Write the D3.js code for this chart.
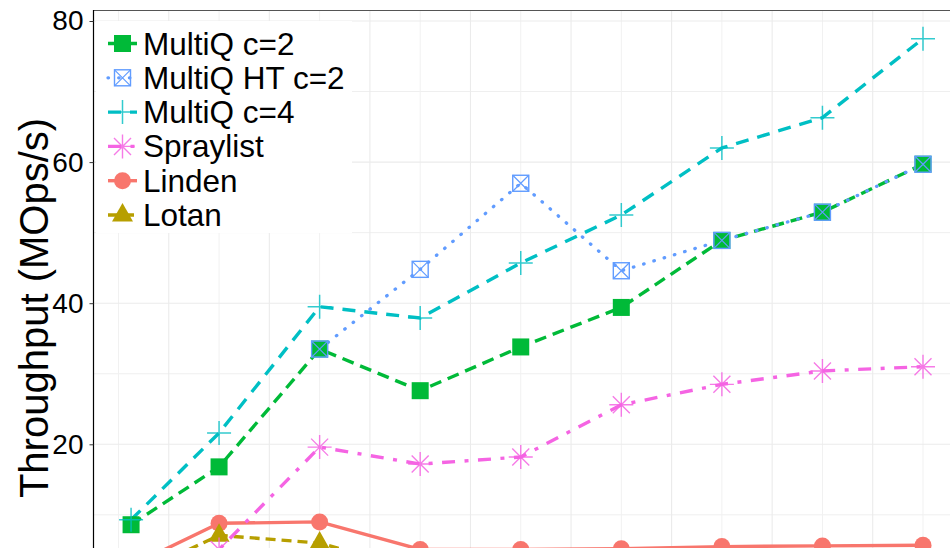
<!DOCTYPE html>
<html><head><meta charset="utf-8">
<script src="https://cdn.jsdelivr.net/npm/d3@7"></script>
<style>html,body{margin:0;padding:0;background:#fff;} svg{display:block;font-family:"Liberation Sans",Arial,Helvetica,sans-serif;}</style>
</head><body><svg id="c" width="950" height="548"></svg>
<script>
// ---- data ----
const threads = [1, 8, 16, 24, 32, 40, 48, 56, 64];
const multiqC2   = [8.6, 16.8, 33.5, 27.6, 33.8, 39.4, 48.9, 52.9, 59.7];
const multiqHTC2 = [null, null, 33.5, 44.8, 57.0, 44.6, 48.9, 52.9, 59.7];
const multiqC4   = [9.3, 21.6, 39.5, 37.9, 45.7, 52.5, 62.0, 66.3, 77.5];
const spraylist  = [1.0, 5.1, 19.6, 17.2, 18.2, 25.6, 28.5, 30.4, 31.0];
const linden     = [2.8, 8.8, 9.0, 5.1, 5.1, 5.2, 5.5, 5.6, 5.7];
const lotan      = [1.2, 7.1, 6.0, 2.0, 2.0, 1.9, 1.8, 1.8, 1.7];
const legendNames = ["MultiQ c=2", "MultiQ HT c=2", "MultiQ c=4", "Spraylist", "Linden", "Lotan"];
const yTickValues = [20, 40, 60, 80];
const yMinorValues = [10, 30, 50, 70];
const xMajorGrid = [4, 12, 20, 28, 36, 44, 52, 60, 68];
const xMinorGrid = [0, 8, 16, 24, 32, 40, 48, 56, 64];
const yTitle = "Throughput (MOps/s)";

// ---- styles (separate from data) ----
const styles = {
  "MultiQ c=2":    {color:"#00BA38", dash:"12,7",  width:3.4, shape:"square"},
  "MultiQ HT c=2": {color:"#619CFF", dash:"0.5,10.2", width:3.3, shape:"squarecross", cap:"round"},
  "MultiQ c=4":    {color:"#00BFC4", dash:"13,9",  width:3.4, shape:"plus"},
  "Spraylist":     {color:"#F564E3", dash:"13,9.5,4,9.5", width:3.4, shape:"asterisk"},
  "Linden":        {color:"#F8766D", dash:null,    width:3.4, shape:"circle"},
  "Lotan":         {color:"#B79F00", dash:"10,6",  width:3.4, shape:"triangle"}
};
const seriesValues = {
  "MultiQ c=2": multiqC2, "MultiQ HT c=2": multiqHTC2, "MultiQ c=4": multiqC4,
  "Spraylist": spraylist, "Linden": linden, "Lotan": lotan
};
// drawing order (factor level order)
const drawOrder = ["Linden", "Lotan", "MultiQ c=2", "MultiQ c=4", "MultiQ HT c=2", "Spraylist"];

const svg = d3.select("#c");
const panel = {left:93.5, top:10.5, right:962, bottom:600};
const x = d3.scaleLinear().domain([0, 64]).range([118.5, 923]);
const y = d3.scaleLinear().domain([0, 80]).range([585.4, 21]);

svg.append("defs").append("clipPath").attr("id","clip")
  .append("rect").attr("x",panel.left).attr("y",panel.top)
  .attr("width",panel.right-panel.left).attr("height",panel.bottom-panel.top);

const grid = svg.append("g").attr("clip-path","url(#clip)");
grid.selectAll(".hmin").data(yMinorValues).join("line")
  .attr("x1",panel.left).attr("x2",panel.right).attr("y1",d=>y(d)).attr("y2",d=>y(d))
  .attr("stroke","#efefef").attr("stroke-width",1);
grid.selectAll(".vmin").data(xMinorGrid).join("line")
  .attr("y1",panel.top).attr("y2",panel.bottom).attr("x1",d=>x(d)).attr("x2",d=>x(d))
  .attr("stroke","#f1f1f1").attr("stroke-width",1);
grid.selectAll(".hmaj").data(yTickValues).join("line")
  .attr("x1",panel.left).attr("x2",panel.right).attr("y1",d=>y(d)).attr("y2",d=>y(d))
  .attr("stroke","#ebebeb").attr("stroke-width",1.1);
grid.selectAll(".vmaj").data(xMajorGrid).join("line")
  .attr("y1",panel.top).attr("y2",panel.bottom).attr("x1",d=>x(d)).attr("x2",d=>x(d))
  .attr("stroke","#ebebeb").attr("stroke-width",1.1);

// top border
svg.append("line").attr("x1",panel.left).attr("x2",950).attr("y1",panel.top).attr("y2",panel.top)
  .attr("stroke","#555").attr("stroke-width",1.2);

const plot = svg.append("g").attr("clip-path","url(#clip)");

function marker(g, shape, color, cx, cy) {
  const s = g.append("g").attr("transform",`translate(${cx},${cy})`);
  if (shape==="square") {
    s.append("rect").attr("x",-8.5).attr("y",-8.5).attr("width",17).attr("height",17).attr("fill",color);
  } else if (shape==="squarecross") {
    s.append("rect").attr("x",-8).attr("y",-8).attr("width",16).attr("height",16)
      .attr("fill","none").attr("stroke",color).attr("stroke-width",1.4);
    s.append("path").attr("d","M-8,-8L8,8M-8,8L8,-8").attr("stroke",color).attr("stroke-width",1.2);
  } else if (shape==="plus") {
    s.append("path").attr("d","M-12,0L12,0M0,-12L0,12").attr("stroke",color).attr("stroke-width",1.5).attr("opacity",0.8);
  } else if (shape==="asterisk") {
    s.append("path").attr("d","M-12,0L12,0M0,-12L0,12M-8.5,-8.5L8.5,8.5M-8.5,8.5L8.5,-8.5")
      .attr("stroke",color).attr("stroke-width",1.4).attr("opacity",0.85);
  } else if (shape==="circle") {
    s.append("circle").attr("r",8.5).attr("fill",color);
  } else if (shape==="triangle") {
    s.append("path").attr("d","M0,-12L10.5,6.5L-10.5,6.5Z").attr("fill",color);
  }
}

const lineGen = d3.line().defined(d=>d.v!==null).x(d=>x(d.t)).y(d=>y(d.v));
drawOrder.forEach(name=>{
  const st = styles[name];
  const pts = threads.map((t,i)=>({t, v: seriesValues[name][i]}));
  const p = plot.append("path").datum(pts).attr("d",lineGen).attr("fill","none")
    .attr("stroke",st.color).attr("stroke-width",st.width)
    .attr("stroke-linecap",st.cap||"butt").attr("stroke-linejoin","round");
  if (st.dash) p.attr("stroke-dasharray",st.dash);
});
drawOrder.forEach(name=>{
  const st = styles[name];
  threads.forEach((t,i)=>{
    const v = seriesValues[name][i];
    if (v!==null) marker(plot, st.shape, st.color, x(t), y(v));
  });
});

// y axis
svg.append("line").attr("x1",panel.left).attr("x2",panel.left).attr("y1",panel.top-0.6).attr("y2",548)
  .attr("stroke","#000").attr("stroke-width",1.2);
const ax = svg.append("g").attr("transform",`translate(${panel.left},0)`)
  .call(d3.axisLeft(y).tickValues(yTickValues).tickSize(4).tickPadding(6).tickFormat(d3.format("d")));
ax.select(".domain").remove();
ax.selectAll(".tick line").attr("stroke","#333").attr("stroke-width",1);
ax.selectAll(".tick text").attr("font-size",28).attr("fill","#000")
  .attr("font-family",'"Liberation Sans",Arial,sans-serif');

svg.append("text").attr("transform","translate(48,308) rotate(-90)")
  .attr("text-anchor","middle").attr("font-size",40).attr("fill","#000").text(yTitle);

// legend
const lg = svg.append("g");
lg.append("rect").attr("x",96).attr("y",21).attr("width",256).attr("height",212).attr("fill","#fff");
legendNames.forEach((name,i)=>{
  const st = styles[name];
  const cy = 43.5 + i*34.3;
  const l = lg.append("line").attr("x1",108).attr("x2",137).attr("y1",cy).attr("y2",cy)
    .attr("stroke",st.color).attr("stroke-width",st.width).attr("stroke-linecap",st.cap||"butt");
  if (st.dash) l.attr("stroke-dasharray",st.dash);
  marker(lg, st.shape, st.color, 122.5, cy);
  lg.append("text").attr("x",143).attr("y",cy+11).attr("font-size",31.5).attr("fill","#000").text(name);
});
</script></body></html>
